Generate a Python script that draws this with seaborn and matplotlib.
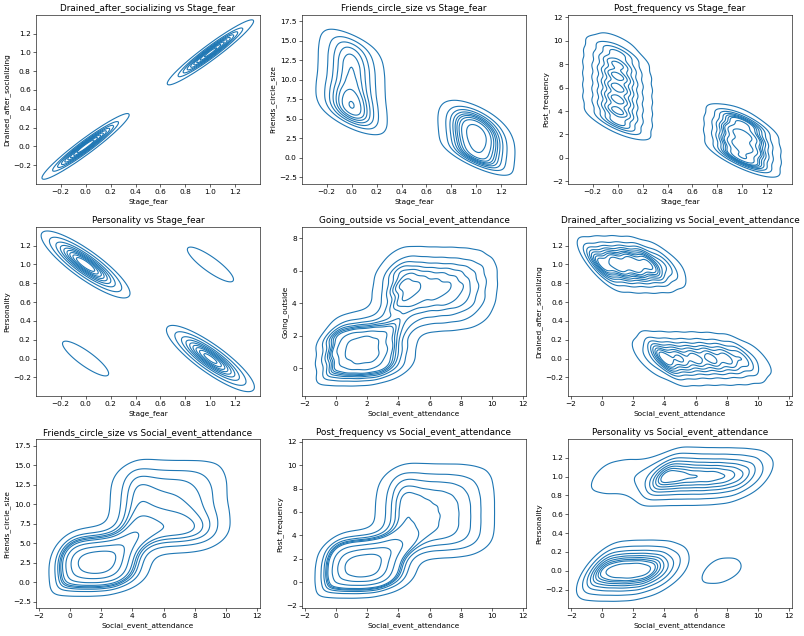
import numpy as np
import pandas as pd
import matplotlib
matplotlib.use("Agg")
import matplotlib.pyplot as plt
import seaborn as sns

# ---------------- data (counts) ----------------
social_vals = np.arange(11)
going_vals = np.arange(8)
friends_vals = np.arange(16)
post_vals = np.arange(11)

low_size = 1400    # introvert-like rows (Stage_fear=1, Drained=1)
high_size = 1500   # extrovert-like rows (Stage_fear=0, Drained=0)

social_low = [230, 270, 280, 250, 110, 15, 0, 0, 0, 0, 0]
social_high = [0, 0, 5, 50, 210, 180, 170, 170, 155, 120, 35]
going_low = [280, 320, 300, 50, 0, 0, 0, 0]
going_high = [0, 0, 0, 110, 190, 210, 180, 60]
friends_low = [150, 170, 190, 200, 180, 110, 30, 0, 0, 0, 0, 0, 0, 0, 0, 0]
friends_high = [0, 0, 0, 0, 10, 100, 150, 150, 140, 120, 115, 110, 110, 100, 85, 50]
post_low = [230, 270, 260, 190, 15, 0, 0, 0, 0, 0, 0]
post_high = [0, 0, 5, 120, 145, 145, 145, 145, 130, 100, 25]

# Stage_fear x Drained cells: (stage_fear, drained, count)
fear_drained_cells = [(0, 0, 1470), (1, 1, 1370), (0, 1, 30), (1, 0, 30)]
# Stage_fear x Personality cells: (stage_fear, personality, count)
fear_personality_cells = [(0, 1, 1400), (1, 0, 1300), (0, 0, 100), (1, 1, 100)]
# Social_event_attendance of mislabelled rows
social_extro_lowlike = [30, 40, 30, 0, 0, 0, 0, 0, 0, 0, 0]
social_intro_highlike = [0, 0, 0, 0, 0, 0, 0, 30, 30, 15, 0]
n_extro_lowlike = 100
n_intro_highlike = 65


def product_rows(xv, xc, yv, yc, n):
    xc = np.asarray(xc, float)
    yc = np.asarray(yc, float)
    joint = np.rint(np.outer(xc / xc.sum(), yc / yc.sum()) * n).astype(int)
    X, Y = np.meshgrid(xv, yv, indexing="ij")
    return np.repeat(X.ravel(), joint.ravel()), np.repeat(Y.ravel(), joint.ravel())


def cell_rows(cells):
    xs = np.concatenate([np.full(c, a) for a, b, c in cells])
    ys = np.concatenate([np.full(c, b) for a, b, c in cells])
    return xs.astype(float), ys.astype(float)


def binary_vs(xv, counts_by_value):
    xs, ys = [], []
    for bval, counts, n in counts_by_value:
        c = np.asarray(counts, float)
        k = np.rint(c / c.sum() * n).astype(int)
        xs.append(np.repeat(xv, k))
        ys.append(np.full(k.sum(), bval))
    return np.concatenate(xs).astype(float), np.concatenate(ys).astype(float)


def two_cluster(xv, xl, xh, yv, yl, yh):
    a = product_rows(xv, xl, yv, yl, low_size)
    b = product_rows(xv, xh, yv, yh, high_size)
    return np.concatenate([a[0], b[0]]).astype(float), np.concatenate([a[1], b[1]]).astype(float)


panels = []
x, y = cell_rows(fear_drained_cells)
panels.append(("Stage_fear", "Drained_after_socializing", x, y))
y, x = binary_vs(friends_vals, [(0, friends_high, high_size), (1, friends_low, low_size)])
panels.append(("Stage_fear", "Friends_circle_size", x, y))
y, x = binary_vs(post_vals, [(0, post_high, high_size), (1, post_low, low_size)])
panels.append(("Stage_fear", "Post_frequency", x, y))
x, y = cell_rows(fear_personality_cells)
panels.append(("Stage_fear", "Personality", x, y))
x, y = two_cluster(social_vals, social_low, social_high, going_vals, going_low, going_high)
panels.append(("Social_event_attendance", "Going_outside", x, y))
x, y = binary_vs(social_vals, [(1, social_low, low_size), (0, social_high, high_size)])
panels.append(("Social_event_attendance", "Drained_after_socializing", x, y))
x, y = two_cluster(social_vals, social_low, social_high, friends_vals, friends_low, friends_high)
panels.append(("Social_event_attendance", "Friends_circle_size", x, y))
x, y = two_cluster(social_vals, social_low, social_high, post_vals, post_low, post_high)
panels.append(("Social_event_attendance", "Post_frequency", x, y))
x, y = binary_vs(social_vals, [(0, social_low, low_size - n_extro_lowlike),
                               (1, social_high, high_size - n_intro_highlike),
                               (1, social_extro_lowlike, n_extro_lowlike),
                               (0, social_intro_highlike, n_intro_highlike)])
panels.append(("Social_event_attendance", "Personality", x, y))

# ---------------- plot ----------------
W = 15.0
fig, axes = plt.subplots(3, 3, figsize=(W, W * 636 / 804))
for ax, (xn, yn, xd, yd) in zip(axes.ravel(), panels):
    sns.kdeplot(x=xd, y=yd, ax=ax)
    ax.set_title(f"{yn} vs {xn}")
    ax.set_xlabel(xn)
    ax.set_ylabel(yn)
fig.subplots_adjust(left=36 / 804, right=792 / 804, top=1 - 15 / 636,
                    bottom=1 - 608 / 636, wspace=0.1875, hspace=0.257)
fig.savefig("out.png", dpi=804 / W)
